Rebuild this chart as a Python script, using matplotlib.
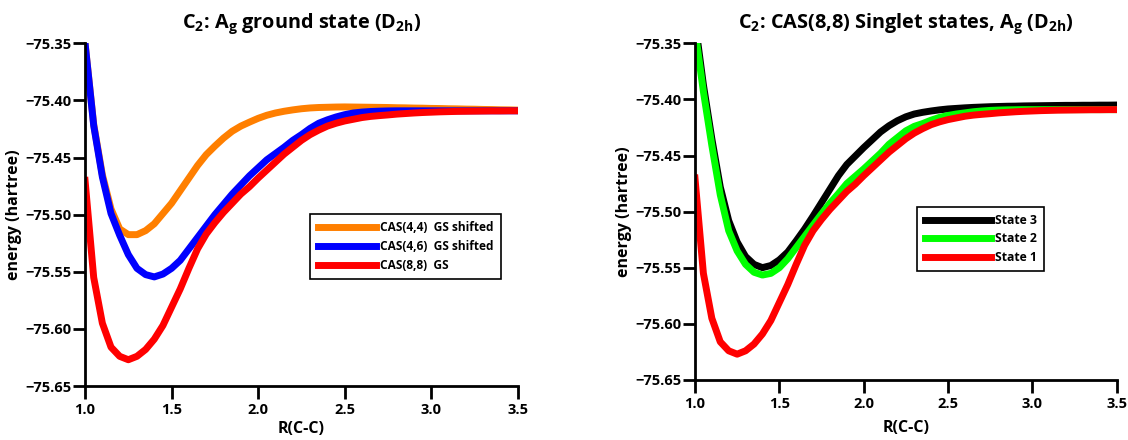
import numpy as np
import matplotlib
matplotlib.use("Agg")
import matplotlib.pyplot as plt
from matplotlib import font_manager
from matplotlib.ticker import FuncFormatter

# pick the first family that actually ships a bold face
bold_family = 'DejaVu Sans'
for fam in ['Noto Sans', 'Open Sans', 'Lato', 'Roboto']:
    faces = [f for f in font_manager.fontManager.ttflist
             if f.name == fam and (f.weight == 'bold' or (isinstance(f.weight, int) and f.weight >= 700))]
    if faces:
        bold_family = fam
        break

plt.rcParams['font.family'] = [bold_family, 'DejaVu Sans']
plt.rcParams['font.weight'] = 'bold'
plt.rcParams['mathtext.fontset'] = 'custom'
plt.rcParams['mathtext.rm'] = bold_family + ':bold'
plt.rcParams['mathtext.it'] = bold_family + ':bold'
plt.rcParams['mathtext.bf'] = bold_family + ':bold'

# bond length grid, R(C-C)
r_cc = np.round(np.arange(1.0, 3.5001, 0.05), 2)

# CAS(8,8) ground state (= state 1)
cas88_gs = [-75.470, -75.555, -75.595, -75.616, -75.624, -75.627, -75.624, -75.618,
            -75.609, -75.597, -75.581, -75.565, -75.547, -75.530, -75.517, -75.507,
            -75.498, -75.490, -75.482, -75.4755, -75.468, -75.461, -75.454, -75.447,
            -75.441, -75.435, -75.430, -75.426, -75.4225, -75.420, -75.418, -75.4165,
            -75.415, -75.414, -75.4133, -75.4127, -75.412, -75.4115, -75.411, -75.4106,
            -75.4103, -75.410, -75.4098, -75.4096, -75.4095, -75.4094, -75.4093, -75.4092,
            -75.4092, -75.4091, -75.4091]

cas46_gs_shifted = [-75.350, -75.422, -75.467, -75.499, -75.518, -75.535, -75.547, -75.5525,
                    -75.5545, -75.552, -75.547, -75.540, -75.530, -75.520, -75.510, -75.500,
                    -75.491, -75.482, -75.474, -75.466, -75.459, -75.452, -75.4465, -75.441,
                    -75.435, -75.430, -75.4245, -75.420, -75.417, -75.4145, -75.4125, -75.411,
                    -75.4102, -75.4097, -75.4094, -75.4092, -75.4091, -75.4091, -75.4091, -75.4091,
                    -75.4091, -75.4091, -75.4091, -75.4091, -75.4091, -75.4091, -75.4091, -75.4091,
                    -75.4091, -75.4091, -75.4091]

cas44_gs_shifted = [-75.350, -75.421, -75.465, -75.495, -75.5125, -75.5175, -75.5175, -75.514,
                    -75.508, -75.499, -75.490, -75.479, -75.468, -75.457, -75.4475, -75.440,
                    -75.433, -75.427, -75.4225, -75.419, -75.4157, -75.413, -75.411, -75.4095,
                    -75.4083, -75.4073, -75.4066, -75.4062, -75.406, -75.4058, -75.4057, -75.4058,
                    -75.4059, -75.406, -75.4061, -75.4062, -75.4064, -75.4065, -75.4067, -75.4068,
                    -75.407, -75.4071, -75.4073, -75.4074, -75.4076, -75.4077, -75.4079, -75.408,
                    -75.4082, -75.4083, -75.4085]

state2 = [-75.338, -75.393, -75.441, -75.485, -75.517, -75.535, -75.547, -75.554,
          -75.5565, -75.555, -75.550, -75.542, -75.532, -75.522, -75.512, -75.502,
          -75.4925, -75.484, -75.475, -75.4685, -75.462, -75.455, -75.448, -75.440,
          -75.434, -75.428, -75.424, -75.4215, -75.4185, -75.416, -75.4143, -75.413,
          -75.412, -75.411, -75.4103, -75.4098, -75.4095, -75.4093, -75.4092, -75.4091,
          -75.4091, -75.4091, -75.4091, -75.4091, -75.4091, -75.4091, -75.4091, -75.4091,
          -75.4091, -75.4091, -75.4091]

state3 = [-75.330, -75.387, -75.435, -75.478, -75.508, -75.527, -75.540, -75.547,
          -75.5499, -75.548, -75.543, -75.536, -75.526, -75.5155, -75.504, -75.492,
          -75.480, -75.468, -75.458, -75.4505, -75.443, -75.436, -75.429, -75.4235,
          -75.419, -75.4155, -75.413, -75.4115, -75.4103, -75.4093, -75.4085, -75.408,
          -75.4075, -75.4071, -75.4068, -75.4065, -75.4063, -75.4061, -75.406, -75.4058,
          -75.4057, -75.4056, -75.4055, -75.4054, -75.4053, -75.4053, -75.4052, -75.4052,
          -75.4051, -75.4051, -75.405]

state1 = cas88_gs

x_ticks = [1.0, 1.5, 2.0, 2.5, 3.0, 3.5]
y_ticks = [-75.65, -75.60, -75.55, -75.50, -75.45, -75.40, -75.35]


def style_axes(ax, xpad):
    ax.set_xlim(1.0, 3.5)
    ax.set_ylim(-75.65, -75.35)
    ax.set_xticks(x_ticks)
    ax.set_yticks(y_ticks)
    ax.xaxis.set_major_formatter(FuncFormatter(lambda v, p: f'{v:.1f}'))
    ax.yaxis.set_major_formatter(FuncFormatter(lambda v, p: f'{v:.2f}'.replace('-', '\u2212')))
    for s in ['top', 'right']:
        ax.spines[s].set_visible(False)
    for s in ['left', 'bottom']:
        ax.spines[s].set_linewidth(2)
    ax.tick_params(axis='x', direction='out', length=9, width=2, labelsize=10.5, pad=3)
    ax.tick_params(axis='y', direction='out', length=9, width=2, labelsize=10.5, pad=1)
    for lab in ax.get_xticklabels() + ax.get_yticklabels():
        lab.set_fontweight('bold')
    ax.set_xlabel('R(C-C)', fontsize=11.5, fontweight='bold', labelpad=xpad)
    ax.set_ylabel('energy (hartree)', fontsize=11.5, fontweight='bold', labelpad=2)


fig = plt.figure(figsize=(11.28, 4.4), dpi=100)
ax1 = fig.add_axes([0.0754, 0.1227, 0.3836, 0.7789])
ax2 = fig.add_axes([0.6161, 0.1364, 0.3739, 0.7652])

lw = 5
ax1.plot(r_cc, cas44_gs_shifted, color='#ff7f00', lw=lw, label='CAS(4,4)  GS shifted')
ax1.plot(r_cc, cas46_gs_shifted, color='#0000ff', lw=lw, label='CAS(4,6)  GS shifted')
ax1.plot(r_cc, cas88_gs, color='#ff0000', lw=lw, label='CAS(8,8)  GS')
style_axes(ax1, xpad=3)
ax1.set_title(r'C$_2$: A$_g$ ground state (D$_{2h}$)', fontsize=14.3, fontweight='bold', pad=11)
leg1 = ax1.legend(loc='lower right', bbox_to_anchor=(0.975, 0.295), fontsize=8.6,
                  handlelength=4.9, fancybox=False, edgecolor='black', framealpha=1,
                  borderpad=0.6, labelspacing=0.5, handletextpad=0.35)
leg1.get_frame().set_linewidth(1.2)
for t in leg1.get_texts():
    t.set_fontweight('bold')

ax2.plot(r_cc, state3, color='#000000', lw=lw, label='State 3')
ax2.plot(r_cc, state2, color='#00ff00', lw=lw, label='State 2')
ax2.plot(r_cc, state1, color='#ff0000', lw=lw, label='State 1')
style_axes(ax2, xpad=7)
ax2.set_title(r'C$_2$: CAS(8,8) Singlet states, A$_g$ (D$_{2h}$)', fontsize=14.3,
              fontweight='bold', pad=11)
leg2 = ax2.legend(loc='lower right', bbox_to_anchor=(0.843, 0.305), fontsize=8.8,
                  handlelength=5.4, fancybox=False, edgecolor='black', framealpha=1,
                  borderpad=0.6, labelspacing=0.45, handletextpad=0.35)
leg2.get_frame().set_linewidth(1.2)
for t in leg2.get_texts():
    t.set_fontweight('bold')

fig.savefig('out.png', dpi=100)
plt.close(fig)
